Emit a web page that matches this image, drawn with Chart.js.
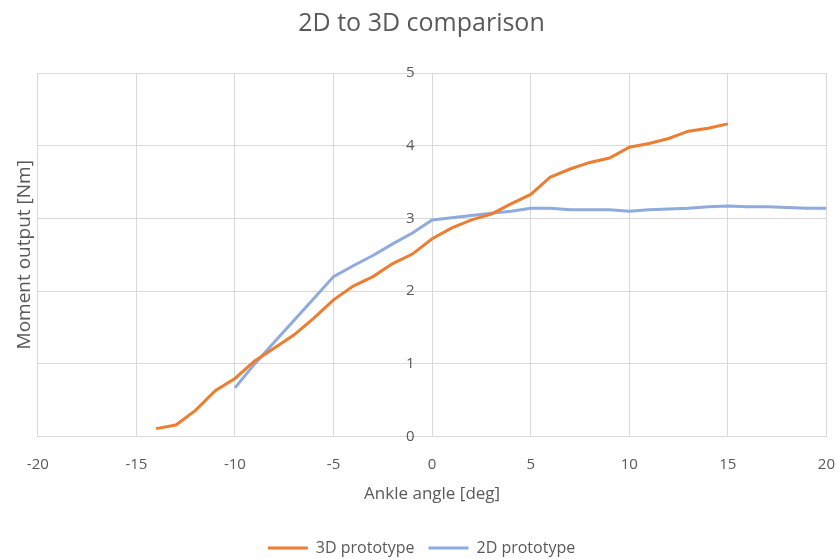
<!DOCTYPE html>
<html>
<head>
<meta charset="utf-8">
<script src="https://cdn.jsdelivr.net/npm/chart.js@4/dist/chart.umd.min.js"></script>
<style>
  html, body { margin: 0; padding: 0; background: #fff; }
  #wrap { width: 839px; height: 559px; }
</style>
</head>
<body>
<div id="wrap"><canvas id="cmp"></canvas></div>
<script>
var angles3D = [-14, -13, -12, -11, -10, -9, -8, -7, -6, -5, -4, -3, -2, -1, 0, 1, 2, 3, 4, 5, 6, 7, 8, 9, 10, 11, 12, 13, 14, 15];
var moment3D = [0.11, 0.16, 0.36, 0.63, 0.8, 1.04, 1.22, 1.4, 1.63, 1.88, 2.07, 2.2, 2.38, 2.51, 2.72, 2.87, 2.98, 3.06, 3.2, 3.33, 3.57, 3.68, 3.77, 3.83, 3.98, 4.03, 4.1, 4.2, 4.24, 4.3];
var angles2D = [-10, -9, -8, -7, -6, -5, -4, -3, -2, -1, 0, 1, 2, 3, 4, 5, 6, 7, 8, 9, 10, 11, 12, 13, 14, 15, 16, 17, 18, 19, 20];
var moment2D = [0.67, 1.0, 1.3, 1.6, 1.9, 2.2, 2.35, 2.49, 2.65, 2.8, 2.98, 3.01, 3.04, 3.07, 3.1, 3.14, 3.14, 3.12, 3.12, 3.12, 3.1, 3.12, 3.13, 3.14, 3.16, 3.17, 3.16, 3.16, 3.15, 3.14, 3.14];
var seriesNames = ['3D prototype', '2D prototype'];

function toPoints(xs, ys) {
    return xs.map(function (x, i) { return { x: x, y: ys[i] }; });
}

var textColor = '#595959';
var gridColor = '#d9d9d9';
Chart.defaults.font.family = '"Open Sans", sans-serif';
Chart.defaults.color = textColor;

var ctx = document.getElementById('cmp').getContext('2d');
var chart = new Chart(ctx, {
    type: 'line',
    data: {
        datasets: [{
            label: seriesNames[0],
            data: toPoints(angles3D, moment3D),
            borderColor: '#ed7d31',
            backgroundColor: '#ed7d31',
            borderWidth: 3,
            pointRadius: 0,
            tension: 0
        }, {
            label: seriesNames[1],
            data: toPoints(angles2D, moment2D),
            borderColor: '#8faadc',
            backgroundColor: '#8faadc',
            borderWidth: 3,
            pointRadius: 0,
            tension: 0
        }]
    },
    options: {
        responsive: true,
        maintainAspectRatio: false,
        animation: false,
        layout: {
            padding: { left: 4, right: 0, top: 0, bottom: -7 }
        },
        plugins: {
            title: {
                display: true,
                text: '2D to 3D comparison',
                color: textColor,
                font: { size: 25, weight: 'normal' },
                padding: { top: 9, bottom: 34 }
            },
            legend: {
                position: 'bottom',
                labels: {
                    usePointStyle: true,
                    pointStyle: 'line',
                    pointStyleWidth: 40,
                    color: textColor,
                    font: { size: 16 },
                    padding: 14
                }
            },
            tooltip: { enabled: false }
        },
        scales: {
            x: {
                type: 'linear',
                min: -20,
                max: 20,
                ticks: { stepSize: 5, font: { size: 15 }, padding: 4 },
                // invisible tick marks only to set the gap under the plot
                grid: { color: gridColor, drawTicks: true, tickLength: 15, tickColor: 'rgba(0,0,0,0)' },
                border: { display: false },
                title: {
                    display: true,
                    text: 'Ankle angle [deg]',
                    font: { size: 17 },
                    padding: { top: 6, bottom: 22 }
                }
            },
            y: {
                type: 'linear',
                position: { x: 0 },
                min: 0,
                max: 5,
                ticks: {
                    stepSize: 1,
                    font: { size: 15 },
                    // padding is ignored on a crossing axis, so push labels off the line
                    callback: function (v) { return v + '\u2003\u2009'; }
                },
                grid: { color: gridColor, drawTicks: false },
                border: { display: false }
            },
            yTitle: {
                type: 'linear',
                position: 'left',
                min: 0,
                max: 5,
                ticks: { display: false },
                grid: { display: false, drawTicks: false },
                border: { display: false },
                title: {
                    display: true,
                    text: 'Moment output [Nm]',
                    font: { size: 19 },
                    padding: { top: 9, bottom: 2 }
                }
            }
        }
    }
});
</script>
</body>
</html>
